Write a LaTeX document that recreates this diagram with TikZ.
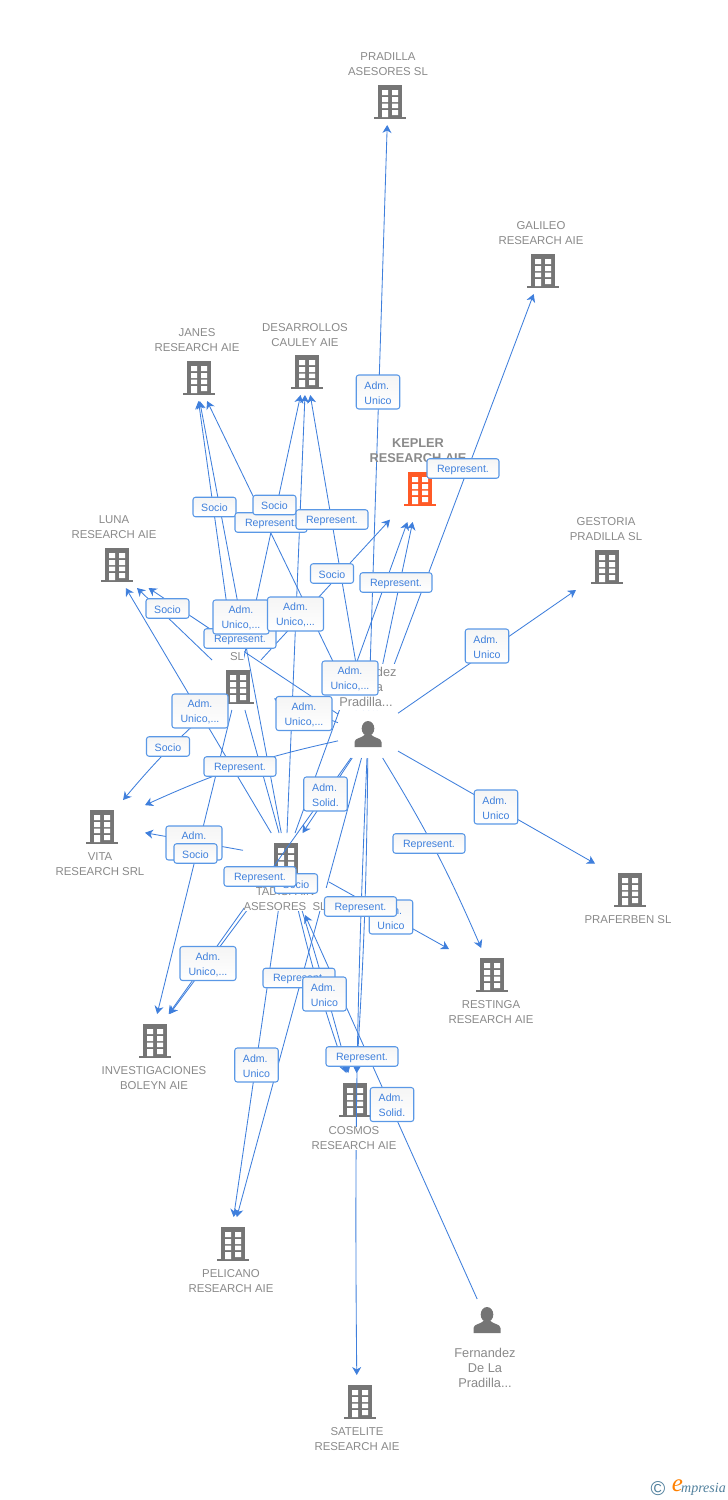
\documentclass[tikz,border=0pt]{standalone}
\usepackage{fontspec}
\setmainfont{Liberation Sans}
\newfontfamily\logofont{Liberation Serif}
\usetikzlibrary{arrows.meta}
\definecolor{lnkc}{HTML}{3F7FDC}
\definecolor{boxc}{HTML}{5A98E6}
\definecolor{txtc}{HTML}{3F80DC}
\definecolor{namec}{HTML}{8A8A8A}
\definecolor{icong}{HTML}{757575}
\definecolor{iconr}{HTML}{FF5A26}
\definecolor{logoc}{HTML}{4F7F9C}
\newcommand{\dn}[1]{\raisebox{-1pt}[\height][\depth]{#1}}
\tikzset{
  lnk/.style={draw=lnkc,line width=0.85pt},
  arr/.style={lnk,-{Stealth[length=8pt,width=9pt,inset=2.5pt]}},
  ent/.style={inner sep=0pt,outer sep=0pt,minimum width=86pt,minimum height=50pt},
  ename/.style={fill=white,inner sep=0pt,text=namec,align=center,font=\fontsize{11.4}{15}\selectfont},
  pname/.style={ename,inner ysep=3pt,font=\fontsize{12.8}{15}\selectfont},
  lbl/.style={draw=boxc,line width=1.05pt,rounded corners=2.5pt,top color=white!96!black,bottom color=white,
     text=txtc,inner sep=0pt,font=\fontsize{10.6}{15}\selectfont},
  rep/.style={lbl,minimum width=72pt,minimum height=19.5pt},
  soc/.style={lbl,minimum width=43pt,minimum height=19.5pt},
  adm/.style={lbl,minimum width=43.5pt,minimum height=34pt,align=left},
  admw/.style={lbl,minimum width=56pt,minimum height=34pt,align=center},
  pics/bld/.style={code={
    \fill[#1] (-12,-15) rectangle (12,17);
    \fill[#1] (-16,17) rectangle (16,19);
    \fill[white] (-8,-10) rectangle (-2,-5) (2,-10) rectangle (8,-5)
                 (-8,-3) rectangle (-2,2) (2,-3) rectangle (8,2)
                 (-8,3.5) rectangle (-2,8) (2,3.5) rectangle (8,8)
                 (-8,10) rectangle (-2,17) (2,10) rectangle (8,15);
  }},
  pics/pers/.style={code={
    \fill[icong] (0,-6.5) ellipse (6.3 and 7.5);
    \fill[icong] (-13.5,12) -- (-13.5,7) .. controls (-13.5,3) and (-6,3) .. (-3.5,0) -- (3.5,0)
       .. controls (6,3) and (13.5,3) .. (13.5,7) -- (13.5,12) -- cycle;
  }}
}
\begin{document}
\begin{tikzpicture}[x=1pt,y=-1pt]
\useasboundingbox (0,0) rectangle (728,1500);
% entities and icons (the box is what the connectors stop at; some are offset from the icon)
\node[ent] (pra) at (388,100) {};  \pic at (390,100) {bld=icong};
\node[ent] (gal) at (543,269) {};  \pic at (543,269) {bld=icong};
\node[ent] (jan) at (195,376) {};  \pic at (199,376) {bld=icong};
\node[ent] (des) at (306,370) {};  \pic at (307,370) {bld=icong};
\node[ent,minimum width=60pt,minimum height=70pt] (kep) at (420,487) {}; \pic at (420,487) {bld=iconr};
\node[ent] (lun) at (111,563) {};  \pic at (117,563) {bld=icong};
\node[ent] (ges) at (612,565) {};  \pic at (607,565) {bld=icong};
\node[ent,minimum width=72pt] (kco) at (238,685) {}; \pic at (238,685) {bld=icong};
\node[ent] (vit) at (102,825) {};  \pic at (102,825) {bld=icong};
\node[ent] (tad) at (286,858) {};  \pic at (286,858) {bld=icong};
\node[ent] (prf) at (638,888) {};  \pic at (630,888) {bld=icong};
\node[ent] (res) at (492,973) {};  \pic at (492,973) {bld=icong};
\node[ent] (inv) at (151,1039) {}; \pic at (155,1039) {bld=icong};
\node[ent] (cos) at (355,1098) {}; \pic at (355,1098) {bld=icong};
\node[ent] (pel) at (230,1242) {}; \pic at (233,1242) {bld=icong};
\node[ent] (sat) at (357,1400) {}; \pic at (360,1400) {bld=icong};
\node[ent,minimum width=60pt,minimum height=48pt] (per) at (368,734) {}; \pic at (368,735) {pers};
\node[ent,minimum width=60pt,minimum height=44pt] (fer) at (487,1321) {}; \pic at (fer) {pers};
\coordinate (tadin) at (305,915);
% connectors
\draw[arr] (per) -- (pra);
\draw[arr] (per) -- (gal);
\draw[arr] (per) -- (kep);
\draw[arr] (per) -- (jan);
\draw[arr] (per) -- (des);
\draw[arr] (per) -- (lun);
\draw[arr] (per) -- (ges);
\draw[arr] (per) -- (prf);
\draw[arr] (per) to[bend left=4] (res);
\draw[arr] (per) to[bend right=6] (vit);
\draw[arr] (per) -- (tad);
\draw[arr] (per) -- (inv);
\draw[arr] (per) -- (pel);
\draw[arr] (per) to[bend left=1.5] (cos);
\draw[arr] (per) to[bend right=1.5] (sat);
\draw[arr] (per) -- (kco);
\draw[arr] (tad) -- (jan);
\draw[arr] (tad) -- (des);
\draw[arr] (tad) -- (lun);
\draw[arr] (tad) -- (kep);
\draw[arr] (tad) -- (vit);
\draw[arr] (tad) -- (pel);
\draw[arr] (tad) -- (inv);
\draw[arr] (tad) -- (res);
\draw[arr] (tad) to[bend left=1] (cos);
\draw[arr] (tad) to[bend right=3] (cos);
\draw[arr] (kco) -- (jan);
\draw[arr] (kco) -- (des);
\draw[arr] (kco) -- (lun);
\draw[arr] (kco) to[bend right=4] (vit);
\draw[arr] (kco) -- (kep);
\draw[arr] (kco) -- (inv);
\draw[lnk] (kco) -- (tad);
\draw[arr] (fer) -- (tadin);
% entity names (white backing hides the connectors)
\node[ename] (npra) at (388,64.5) {PRADILLA\\ASESORES SL};
\node[ename] (ngal) at (541,233.5) {GALILEO\\RESEARCH AIE};
\node[ename] (njan) at (197,340.5) {JANES\\RESEARCH AIE};
\node[ename] (ndes) at (305,335.5) {DESARROLLOS\\CAULEY AIE};
\node[ename,fill=none,font=\fontsize{12.8}{15}\selectfont\bfseries] (nkep) at (418,451) {KEPLER\\RESEARCH AIE};
\node[ename] (nlun) at (114,527.5) {LUNA\\RESEARCH AIE};
\node[ename] (nges) at (606,529.5) {GESTORIA\\PRADILLA SL};
\node[ename] (nkco) at (237,649.5) {K\hspace{66pt}\\SL};
\node[pname] (nper) at (366,687) {Fernandez\\De La\\Pradilla...};
\node[ename] (nvit) at (100,864.5) {VITA\\RESEARCH SRL};
\node[ename] (ntad) at (285,899.5) {TADISPAIN\\ASESORES\ \ SL};
\node[ename] (nprf) at (628,920) {PRAFERBEN SL};
\node[ename] (nres) at (491,1012.5) {RESTINGA\\RESEARCH AIE};
\node[ename] (ninv) at (154,1078.5) {INVESTIGACIONES\\BOLEYN AIE};
\node[ename] (ncos) at (354,1138.5) {COSMOS\\RESEARCH AIE};
\node[ename] (npel) at (231,1281.5) {PELICANO\\RESEARCH AIE};
\node[ename] (nsat) at (357,1439.5) {SATELITE\\RESEARCH AIE};
\node[pname] (nfer) at (485,1367.5) {Fernandez\\De La\\Pradilla...};
% connector labels
\node[adm]  (l01) at (378,392)  {\dn{Adm.}\\\dn{Unico}};
\node[rep]  (l02) at (463,468.5) {\dn{Represent.}};
\node[soc]  (l03) at (214.5,507) {\dn{Socio}};
\node[rep]  (l05) at (271,522.5) {\dn{Represent.}};
\node[soc]  (l04) at (274.5,505) {\dn{Socio}};
\node[rep]  (l06) at (332,519.5) {\dn{Represent.}};
\node[soc]  (l07) at (332,573.5) {\dn{Socio}};
\node[rep]  (l08) at (396,582.5) {\dn{Represent.}};
\node[soc]  (l09) at (167.5,608.5) {\dn{Socio}};
\node[rep]  (l10) at (240,638.5) {\dn{Represent.}};
\node[admw] (l11) at (241,617)  {\dn{Adm.}\\\dn{Unico,...}};
\node[admw] (l12) at (295.5,614) {\dn{Adm.}\\\dn{Unico,...}};
\node[admw] (l13) at (350,678)  {\dn{Adm.}\\\dn{Unico,...}};
\node[admw] (l14) at (200,711)  {\dn{Adm.}\\\dn{Unico,...}};
\node[admw] (l15) at (304,713.5) {\dn{Adm.}\\\dn{Unico,...}};
\node[adm]  (l16) at (487,646)  {\dn{Adm.}\\\dn{Unico}};
\node[soc]  (l17) at (168,746.5) {\dn{Socio}};
\node[rep]  (l18) at (240,766.5) {\dn{Represent.}};
\node[adm]  (l19) at (325.5,794) {\dn{Adm.}\\\dn{Solid.}};
\node[adm]  (l20) at (496,807)  {\dn{Adm.}\\\dn{Unico}};
\node[admw] (l21) at (194,843)  {\dn{Adm.}\\\dn{Unico,...}};
\node[soc]  (l22) at (195.5,853.5) {\dn{Socio}};
\node[rep]  (l23) at (429,843.5) {\dn{Represent.}};
\node[soc]  (l25) at (296,883.5) {\dn{Socio}};
\node[rep]  (l24) at (260,876.5) {\dn{Represent.}};
\node[adm]  (l27) at (391,917)  {\dn{Adm.}\\\dn{Unico}};
\node[rep]  (l26) at (360.5,906.5) {\dn{Represent.}};
\node[admw] (l28) at (208,963.5) {\dn{Adm.}\\\dn{Unico,...}};
\node[rep]  (l29) at (299,978) {\dn{Represent.}};
\node[adm]  (l30) at (324.5,994) {\dn{Adm.}\\\dn{Unico}};
\node[adm]  (l31) at (256.5,1065) {\dn{Adm.}\\\dn{Unico}};
\node[rep]  (l32) at (362,1056.5) {\dn{Represent.}};
\node[adm]  (l33) at (392,1104.5) {\dn{Adm.}\\\dn{Solid.}};
% logo
\node[inner sep=0pt,text=logoc,font=\fontsize{20}{20}\selectfont] (lg1) at (658,1489) {\char"00A9};
\node[inner sep=0pt,text=orange,font=\logofont\itshape\fontsize{25}{25}\selectfont] (lg2) at (677.5,1486) {e};
\node[inner sep=0pt,anchor=west,text=logoc,font=\logofont\itshape\fontsize{14}{15}\selectfont] (lg3) at (681,1489) {mpresia};
\end{tikzpicture}
\end{document}
